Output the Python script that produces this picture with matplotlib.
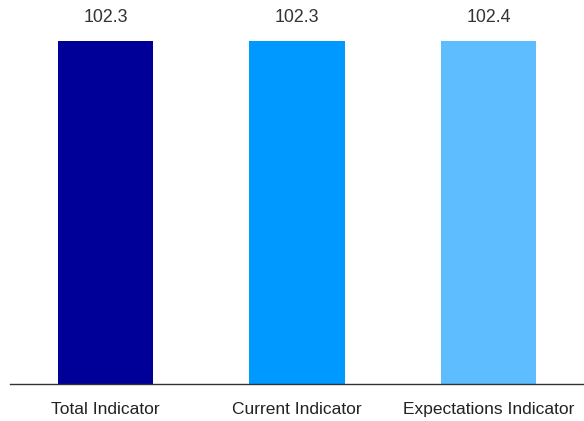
import matplotlib
matplotlib.use("Agg")
import matplotlib.pyplot as plt

categories = ["Total Indicator", "Current Indicator", "Expectations Indicator"]
values = [102.3, 102.3, 102.4]
colors = ["#000099", "#0099ff", "#5ebdff"]

plt.rcParams["font.family"] = ["Liberation Sans", "DejaVu Sans"]

fig = plt.figure(figsize=(5.84, 4.21), dpi=100)
ax = fig.add_axes([9.75 / 584, 37.5 / 421, 574.5 / 584, 383.5 / 421])

x = range(len(categories))
bars = ax.bar(x, values, width=0.5, color=colors)
ax.set_xlim(-0.5, len(categories) - 0.5)
ax.set_ylim(0, max(values) * 383.5 / 342.5)

for rect, v in zip(bars, values):
    ax.annotate(f"{v:.1f}", (rect.get_x() + rect.get_width() / 2, rect.get_height()),
                xytext=(0, 17), textcoords="offset points", ha="center", va="center",
                fontsize=12.8, color="#333333")

ax.set_xticks(list(x))
ax.set_xticklabels(categories, fontsize=12.5, color="#222222")
ax.tick_params(axis="x", length=0, pad=13)
ax.set_yticks([])
for s in ["top", "right", "left"]:
    ax.spines[s].set_visible(False)
ax.spines["bottom"].set_color("#333333")
ax.spines["bottom"].set_linewidth(1)

fig.savefig("out.png", dpi=100)
